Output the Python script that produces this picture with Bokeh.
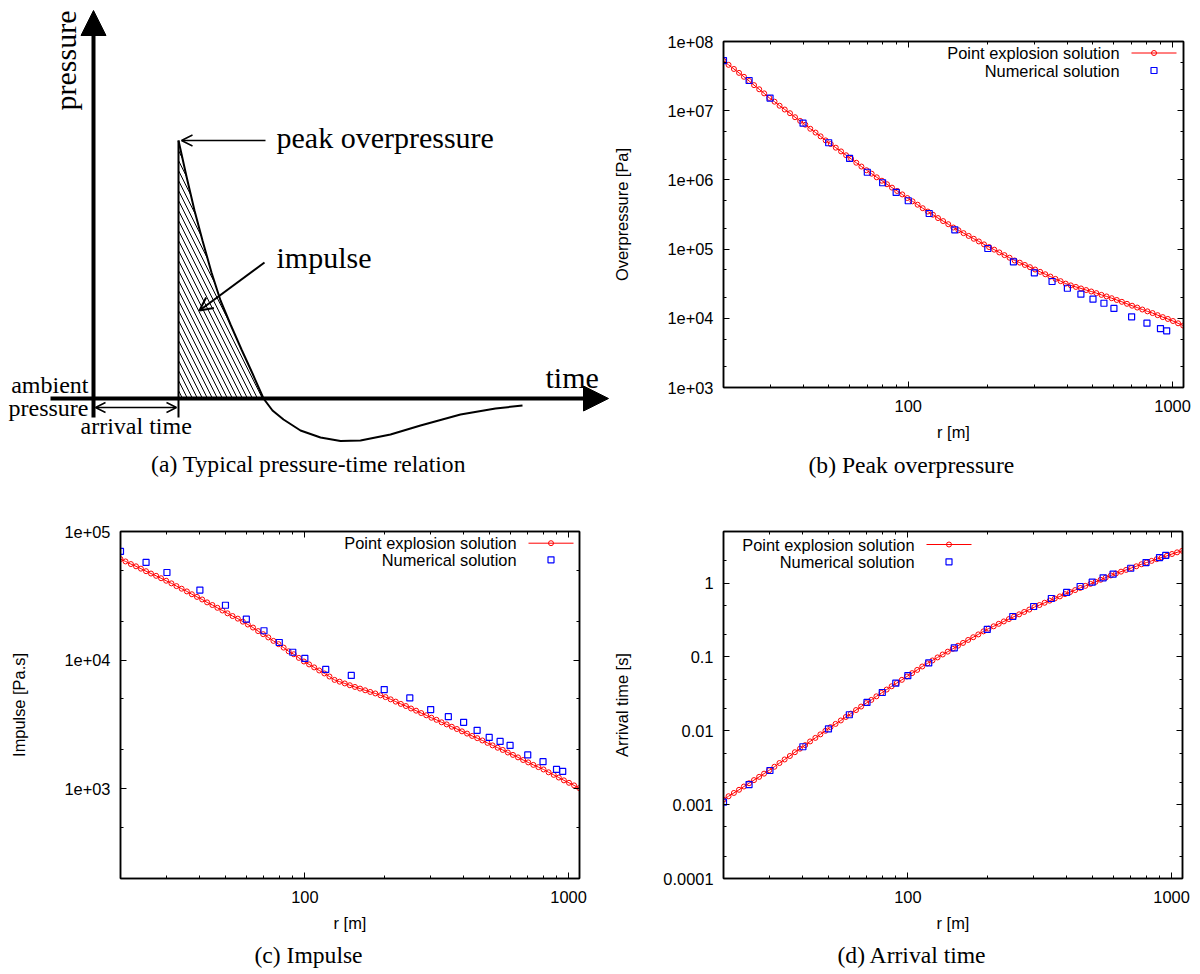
from math import pi
from bokeh.plotting import figure
from bokeh.models import (Range1d, LinearScale, LogAxis, FixedTicker, CustomJSTickFormatter,
                          Label, Arrow, NormalHead, OpenHead, Title, Spacer)
from bokeh.layouts import column, row
from bokeh.embed import file_html
from bokeh.resources import INLINE

SANS = "Liberation Sans"
SERIF = "Liberation Serif"
SANS_SIZE = "16.4px"

# ---------------- data: point explosion solution (line with circles) ----------------
r_model = [20.0, 20.9, 21.9, 22.9, 23.9, 25.0, 26.1, 27.3, 28.5, 29.8, 31.2, 32.6, 34.1, 35.7, 37.3,
           39.0, 40.8, 42.6, 44.6, 46.6, 48.7, 50.9, 53.2, 55.7, 58.2, 60.8, 63.6, 66.5, 69.5, 72.7,
           76.0, 79.5, 83.1, 86.8, 90.8, 94.9, 99.2, 103.8, 108.5, 113.4, 118.6, 124.0, 129.6, 135.5,
           141.7, 148.1, 154.9, 161.9, 169.3, 177.0, 185.0, 193.5, 202.3, 211.5, 221.1, 231.2, 241.7,
           252.7, 264.2, 276.2, 288.7, 301.9, 315.6, 330.0, 345.0, 360.7, 377.1, 394.2, 412.2, 430.9,
           450.5, 471.0, 492.5, 514.9, 538.3, 562.8, 588.4, 615.2, 643.1, 672.4, 703.0, 735.0, 768.4,
           803.4, 839.9, 878.1, 918.1, 959.9, 1003.6, 1049.2, 1096.9]

overpressure_model = [5.25e7, 4.60e7, 4.01e7, 3.52e7, 3.09e7, 2.69e7, 2.34e7, 2.04e7, 1.78e7, 1.53e7,
                      1.35e7, 1.18e7, 1.04e7, 9.20e6, 8.05e6, 7.11e6, 6.27e6, 5.48e6, 4.83e6, 4.26e6,
                      3.72e6, 3.30e6, 2.92e6, 2.58e6, 2.27e6, 2.01e6, 1.77e6, 1.56e6, 1.38e6, 1.23e6,
                      1.09e6, 9.73e5, 8.65e5, 7.73e5, 6.92e5, 6.17e5, 5.47e5, 4.90e5, 4.38e5, 3.90e5,
                      3.49e5, 3.14e5, 2.81e5, 2.54e5, 2.29e5, 2.05e5, 1.87e5, 1.70e5, 1.55e5, 1.41e5,
                      1.29e5, 1.17e5, 1.07e5, 9.82e4, 8.95e4, 8.18e4, 7.50e4, 6.85e4, 6.37e4, 5.90e4,
                      5.48e4, 5.07e4, 4.69e4, 4.33e4, 4.01e4, 3.71e4, 3.44e4, 3.17e4, 2.99e4, 2.84e4,
                      2.70e4, 2.56e4, 2.44e4, 2.31e4, 2.18e4, 2.07e4, 1.95e4, 1.84e4, 1.73e4, 1.62e4,
                      1.52e4, 1.43e4, 1.34e4, 1.26e4, 1.19e4, 1.11e4, 1.04e4, 9.79e3, 9.14e3, 8.47e3,
                      7.85e3]

impulse_model = [6.10e4, 5.85e4, 5.58e4, 5.36e4, 5.14e4, 4.91e4, 4.71e4, 4.52e4, 4.33e4, 4.14e4,
                 3.95e4, 3.76e4, 3.59e4, 3.42e4, 3.25e4, 3.10e4, 2.96e4, 2.81e4, 2.68e4, 2.55e4,
                 2.43e4, 2.31e4, 2.20e4, 2.10e4, 1.99e4, 1.89e4, 1.79e4, 1.68e4, 1.59e4, 1.50e4,
                 1.41e4, 1.33e4, 1.25e4, 1.17e4, 1.11e4, 1.04e4, 9.75e3, 9.25e3, 8.77e3, 8.30e3,
                 7.87e3, 7.45e3, 7.01e3, 6.79e3, 6.58e3, 6.37e3, 6.18e3, 6.00e3, 5.82e3, 5.65e3,
                 5.50e3, 5.32e3, 5.15e3, 4.95e3, 4.75e3, 4.56e3, 4.39e3, 4.20e3, 4.04e3, 3.87e3,
                 3.72e3, 3.56e3, 3.43e3, 3.28e3, 3.16e3, 3.03e3, 2.91e3, 2.79e3, 2.68e3, 2.57e3,
                 2.47e3, 2.37e3, 2.27e3, 2.17e3, 2.08e3, 2.00e3, 1.91e3, 1.83e3, 1.75e3, 1.67e3,
                 1.60e3, 1.53e3, 1.47e3, 1.41e3, 1.34e3, 1.28e3, 1.22e3, 1.16e3, 1.11e3, 1.06e3,
                 1.01e3]

arrival_model = [1.17e-3, 1.30e-3, 1.44e-3, 1.59e-3, 1.76e-3, 1.95e-3, 2.15e-3, 2.38e-3, 2.63e-3, 2.92e-3,
                 3.26e-3, 3.66e-3, 4.09e-3, 4.56e-3, 5.13e-3, 5.73e-3, 6.40e-3, 7.18e-3, 8.02e-3, 8.95e-3,
                 1.00e-2, 1.12e-2, 1.24e-2, 1.38e-2, 1.54e-2, 1.71e-2, 1.91e-2, 2.13e-2, 2.37e-2, 2.62e-2,
                 2.93e-2, 3.26e-2, 3.62e-2, 4.01e-2, 4.43e-2, 4.90e-2, 5.44e-2, 6.04e-2, 6.68e-2, 7.43e-2,
                 8.18e-2, 8.97e-2, 9.86e-2, 0.108, 0.118, 0.129, 0.142, 0.155, 0.170, 0.185,
                 0.202, 0.222, 0.242, 0.260, 0.281, 0.303, 0.326, 0.352, 0.378, 0.407,
                 0.438, 0.473, 0.505, 0.542, 0.579, 0.619, 0.661, 0.710, 0.757, 0.805,
                 0.861, 0.918, 0.977, 1.04, 1.11, 1.19, 1.27, 1.35, 1.43, 1.51,
                 1.60, 1.69, 1.80, 1.90, 2.00, 2.11, 2.23, 2.34, 2.48, 2.61,
                 2.74]

# ---------------- data: numerical solution (blue squares) ----------------
r_num = [20, 25, 30, 40, 50, 60, 70, 80, 90, 100, 120, 150, 200, 250, 300, 350, 400, 450, 500,
         550, 600, 700, 800, 900, 950]
overpressure_num = [5.3e7, 2.73e7, 1.52e7, 6.6e6, 3.44e6, 2.04e6, 1.29e6, 9.1e5, 6.6e5, 5.0e5, 3.27e5,
                    1.9e5, 1.02e5, 6.55e4, 4.54e4, 3.4e4, 2.72e4, 2.23e4, 1.89e4, 1.65e4, 1.39e4,
                    1.05e4, 8.5e3, 7.1e3, 6.6e3]
impulse_num = [7.0e4, 5.75e4, 4.8e4, 3.5e4, 2.67e4, 2.08e4, 1.69e4, 1.37e4, 1.15e4, 1.03e4, 8.45e3,
               7.6e3, 5.9e3, 5.08e3, 4.12e3, 3.63e3, 3.28e3, 2.84e3, 2.5e3, 2.33e3, 2.17e3, 1.83e3,
               1.62e3, 1.41e3, 1.36e3]
arrival_num = [1.08e-3, 1.87e-3, 2.9e-3, 6.08e-3, 1.06e-2, 1.65e-2, 2.42e-2, 3.3e-2, 4.42e-2, 5.6e-2,
               8.3e-2, 0.133, 0.236, 0.353, 0.482, 0.619, 0.747, 0.90, 1.03, 1.18, 1.32, 1.59, 1.90,
               2.22, 2.37]

# ---------------- axes ticks ----------------
r_range = (20, 1100)
r_major = [100, 1000]
r_minor = [20, 30, 40, 50, 60, 70, 80, 90, 200, 300, 400, 500, 600, 700, 800, 900]
op_major = [1e3, 1e4, 1e5, 1e6, 1e7, 1e8]
op_minor = [2e3, 5e3, 2e4, 5e4, 2e5, 5e5, 2e6, 5e6, 2e7, 5e7]
imp_major = [1e3, 1e4, 1e5]
imp_minor = [500, 2e3, 5e3, 2e4, 5e4]
at_major = [1e-4, 1e-3, 1e-2, 1e-1, 1]
at_minor = [2e-4, 5e-4, 2e-3, 5e-3, 2e-2, 5e-2, 0.2, 0.5, 2]

legend_labels = ["Point explosion solution", "Numerical solution"]

# ---------------- schematic (a) : time / pressure in drawing units ----------------
sketch_t = [85, 93, 101, 109, 118, 127, 137, 148, 159, 170, 179, 190, 207, 227, 247, 267, 297, 327,
            367, 402, 429]
sketch_p = [258, 222, 188, 158, 126, 98, 74, 49, 25, 0, -12, -21, -32, -39, -42.5, -42, -36, -27,
            -16, -10, -7]
arrival_t = 85
peak_p = 258
n_positive = 10

X_CODE = "return String(Math.round(tick));"
EXP_CODE = """
const e = Math.round(Math.log10(tick));
return "1e+" + (e < 10 ? "0" + e : "" + e);
"""
DEC_CODE = """
const e = Math.round(Math.log10(tick));
if (e >= 0) { return String(Math.round(tick)); }
return "0." + "0".repeat(-e - 1) + "1";
"""
NONE_CODE = "return '';"


def style_axis(ax, labels=True):
    ax.axis_line_color = "black"
    ax.axis_line_width = 1.5
    ax.major_tick_in = 6
    ax.major_tick_out = 0
    ax.minor_tick_in = 3
    ax.minor_tick_out = 0
    ax.major_tick_line_color = "black"
    ax.minor_tick_line_color = "black"
    ax.major_tick_line_width = 1
    ax.minor_tick_line_width = 1
    ax.major_label_text_font = SANS
    ax.major_label_text_color = "black"
    if labels:
        ax.major_label_text_font_size = SANS_SIZE
        ax.major_label_standoff = 10
    else:
        ax.major_label_text_font_size = "1px"
        ax.major_label_standoff = 0
    ax.axis_label_text_font = SANS
    ax.axis_label_text_font_size = SANS_SIZE
    ax.axis_label_text_font_style = "normal"
    ax.axis_label_text_color = "black"


def log_panel(r_line, v_line, r_pts, v_pts, y_lo, y_hi, y_major, y_minor, y_code, y_label,
              caption, fw, fh, bl, br, bt, bb, y_standoff, leg_right, leg_rows, cap_offset,
              cap_standoff):
    p = figure(frame_width=fw, frame_height=fh, x_axis_type="log", y_axis_type="log",
               x_range=Range1d(*r_range), y_range=Range1d(y_lo, y_hi),
               toolbar_location=None, output_backend="svg", title=None,
               min_border_left=bl, min_border_right=br, min_border_top=bt, min_border_bottom=bb)
    p.grid.visible = False
    p.outline_line_color = "black"
    p.outline_line_width = 1.5
    p.background_fill_color = "white"
    p.border_fill_color = "white"
    p.extra_x_ranges = {"px": Range1d(0, fw)}
    p.extra_y_ranges = {"px": Range1d(0, fh)}
    p.extra_x_scales = {"px": LinearScale()}
    p.extra_y_scales = {"px": LinearScale()}

    xt = FixedTicker(ticks=r_major, minor_ticks=r_minor)
    yt = FixedTicker(ticks=y_major, minor_ticks=y_minor)
    xa = p.xaxis[0]
    ya = p.yaxis[0]
    xa.ticker = xt
    xa.formatter = CustomJSTickFormatter(code=X_CODE)
    ya.ticker = yt
    ya.formatter = CustomJSTickFormatter(code=y_code)
    style_axis(xa)
    style_axis(ya)
    xa.major_label_standoff = 12
    xa.axis_label = "r [m]"
    xa.axis_label_standoff = 8
    ya.axis_label = y_label
    ya.axis_label_standoff = y_standoff

    ta = LogAxis(ticker=xt, formatter=CustomJSTickFormatter(code=NONE_CODE))
    ra = LogAxis(ticker=yt, formatter=CustomJSTickFormatter(code=NONE_CODE))
    style_axis(ta, labels=False)
    style_axis(ra, labels=False)
    p.add_layout(ta, "above")
    p.add_layout(ra, "right")

    p.line(r_line, v_line, line_color="red", line_width=1)
    p.scatter(r_line, v_line, marker="circle", size=5, fill_color=None, line_color="red",
              line_width=1)
    p.scatter(r_pts, v_pts, marker="square", size=6, fill_color=None, line_color="blue",
              line_width=1.2)

    # gnuplot-style key: right-justified text, then sample
    y1, y2 = leg_rows
    for txt, yy in zip(legend_labels, leg_rows):
        p.add_layout(Label(x=leg_right, y=yy, x_range_name="px", y_range_name="px", text=txt,
                           text_font=SANS, text_font_size=SANS_SIZE, text_align="right",
                           text_baseline="middle", text_color="black"))
    sx0, sx1 = leg_right + 12, leg_right + 57
    p.line([sx0, sx1], [y1, y1], x_range_name="px", y_range_name="px", line_color="red",
           line_width=1)
    p.scatter([(sx0 + sx1) / 2], [y1], x_range_name="px", y_range_name="px", marker="circle",
              size=5, fill_color=None, line_color="red", line_width=1)
    p.scatter([(sx0 + sx1) / 2], [y2], x_range_name="px", y_range_name="px", marker="square",
              size=6, fill_color=None, line_color="blue", line_width=1.2)

    p.add_layout(Title(text=caption, align="left", offset=cap_offset, standoff=cap_standoff,
                       vertical_align="bottom", text_font=SERIF, text_font_size="23.6px",
                       text_font_style="normal", text_color="black"), "below")
    return p


# ---------------- panel (a) ----------------
pa = figure(width=610, height=480, x_range=Range1d(-93, 517), y_range=Range1d(-82, 398),
            toolbar_location=None, output_backend="svg", min_border=0,
            x_axis_type=None, y_axis_type=None, title=None)
pa.outline_line_color = None
pa.grid.visible = False
pa.background_fill_color = "white"
pa.border_fill_color = "white"

hatch_t = [arrival_t] + sketch_t[:n_positive]
hatch_p = [0] + sketch_p[:n_positive]
pa.patch(hatch_t, hatch_p, fill_color=None, line_color=None, hatch_pattern="\\",
         hatch_color="black", hatch_weight=1, hatch_scale=10)
pa.line(sketch_t, sketch_p, line_color="black", line_width=2)
pa.segment(x0=[arrival_t], y0=[-19], x1=[arrival_t], y1=[peak_p], line_color="black", line_width=2)

pa.add_layout(Arrow(end=NormalHead(size=25, fill_color="black", line_color="black"),
                    x_start=0, y_start=-19, x_end=0, y_end=388, line_width=4, line_color="black"))
pa.add_layout(Arrow(end=NormalHead(size=25, fill_color="black", line_color="black"),
                    x_start=-43, y_start=0, x_end=515, y_end=0, line_width=4, line_color="black"))
pa.add_layout(Arrow(end=OpenHead(size=11, line_width=1.5, line_color="black"),
                    x_start=172, y_start=peak_p, x_end=88, y_end=peak_p, line_width=1.5,
                    line_color="black"))
pa.add_layout(Arrow(end=OpenHead(size=13, line_width=2, line_color="black"),
                    x_start=171, y_start=136, x_end=106, y_end=88, line_width=2,
                    line_color="black"))
pa.add_layout(Arrow(start=OpenHead(size=10, line_width=1.5, line_color="black"),
                    end=OpenHead(size=10, line_width=1.5, line_color="black"),
                    x_start=2, y_start=-9, x_end=83, y_end=-9, line_width=1.5,
                    line_color="black"))


def a_label(x, y, text, size, align="left", angle=0):
    pa.add_layout(Label(x=x, y=y, text=text, text_font=SERIF, text_font_size=size,
                        text_align=align, text_baseline="middle", angle=angle,
                        text_color="black"))


a_label(-28, 338, "pressure", "30px", align="center", angle=pi / 2)
a_label(183, 261, "peak overpressure", "30px")
a_label(183, 141, "impulse", "30px")
a_label(452, 21, "time", "30px")
a_label(-5, 14, "ambient", "24px", align="right")
a_label(-5, -9, "pressure", "24px", align="right")
a_label(-13, -27, "arrival time", "24px")
a_label(215, -65, "(a) Typical pressure-time relation", "23.6px", align="center")

# ---------------- panels (b), (c), (d) ----------------
pb = log_panel(r_model, overpressure_model, r_num, overpressure_num, 1e3, 1e8, op_major, op_minor,
               EXP_CODE, "Overpressure [Pa]", "(b) Peak overpressure",
               460, 346, 112, 18, 40, 97, 33, 396, (334.5, 317), 85, 13)
pc = log_panel(r_model, impulse_model, r_num, impulse_num, 200, 1e5, imp_major, imp_minor,
               EXP_CODE, "Impulse [Pa.s]", "(c) Impulse",
               459, 347, 120, 31, 47, 95, 33, 396, (335.3, 318.7), 134, 10)
pd = log_panel(r_model, arrival_model, r_num, arrival_num, 1e-4, 5, at_major, at_minor,
               DEC_CODE, "Arrival time [s]", "(d) Arrival time",
               459, 347, 112, 19, 47, 95, 29, 191, (334, 316.7), 114, 10)

layout = column(row(column(pa), column(Spacer(width=590, height=1), pb)), row(pc, pd))
open("out.html", "w").write(file_html(layout, INLINE))
